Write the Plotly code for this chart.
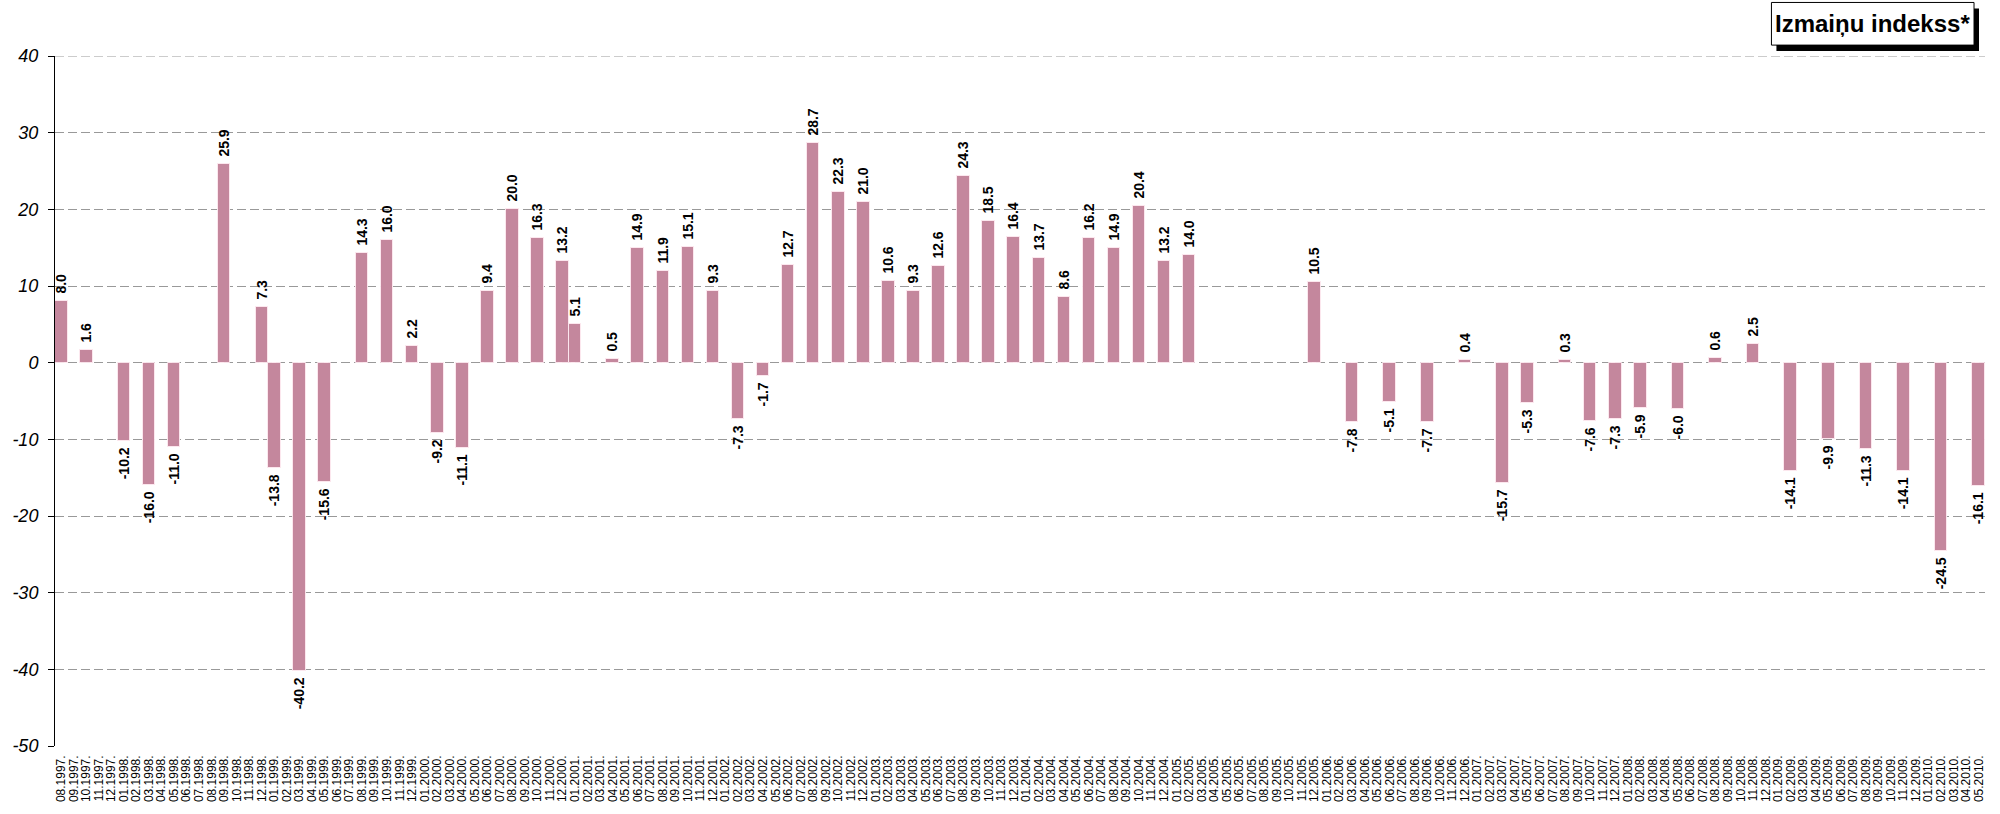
import plotly.graph_objects as go

# Monthly category axis: 08.1997 .. 05.2010
start_year, start_month = 1997, 8
end_year, end_month = 2010, 5

month_labels = []
y, m = start_year, start_month
while (y, m) <= (end_year, end_month):
    month_labels.append(f"{m:02d}.{y}.")
    m += 1
    if m > 12:
        m, y = 1, y + 1

# Months that carry an index value
bar_months = [
    "08.1997.", "10.1997.", "01.1998.", "03.1998.", "05.1998.",
    "09.1998.", "12.1998.", "01.1999.", "03.1999.", "05.1999.",
    "08.1999.", "10.1999.", "12.1999.", "02.2000.", "04.2000.",
    "06.2000.", "08.2000.", "10.2000.", "12.2000.", "01.2001.",
    "04.2001.", "06.2001.", "08.2001.", "10.2001.", "12.2001.",
    "02.2002.", "04.2002.", "06.2002.", "08.2002.", "10.2002.",
    "12.2002.", "02.2003.", "04.2003.", "06.2003.", "08.2003.",
    "10.2003.", "12.2003.", "02.2004.", "04.2004.", "06.2004.",
    "08.2004.", "10.2004.", "12.2004.", "02.2005.", "12.2005.",
    "03.2006.", "06.2006.", "09.2006.", "12.2006.", "03.2007.",
    "05.2007.", "08.2007.", "10.2007.", "12.2007.", "02.2008.",
    "05.2008.", "08.2008.", "11.2008.", "02.2009.", "05.2009.",
    "08.2009.", "11.2009.", "02.2010.", "05.2010.",
]

bar_values = [
    8.0, 1.6, -10.2, -16.0, -11.0,
    25.9, 7.3, -13.8, -40.2, -15.6,
    14.3, 16.0, 2.2, -9.2, -11.1,
    9.4, 20.0, 16.3, 13.2, 5.1,
    0.5, 14.9, 11.9, 15.1, 9.3,
    -7.3, -1.7, 12.7, 28.7, 22.3,
    21.0, 10.6, 9.3, 12.6, 24.3,
    18.5, 16.4, 13.7, 8.6, 16.2,
    14.9, 20.4, 13.2, 14.0, 10.5,
    -7.8, -5.1, -7.7, 0.4, -15.7,
    -5.3, 0.3, -7.6, -7.3, -5.9,
    -6.0, 0.6, 2.5, -14.1, -9.9,
    -11.3, -14.1, -24.5, -16.1,
]

series_name = "Izmaiņu indekss*"
y_ticks = [40, 30, 20, 10, 0, -10, -20, -30, -40, -50]

lookup = dict(zip(bar_months, bar_values))
values = [lookup.get(lbl) for lbl in month_labels]

# Value labels; a non-breaking space on the bar side keeps them off the bar end
NBSP = "\u00a0"
labels = []
for v in values:
    if v is None:
        labels.append("")
    elif v >= 0:
        labels.append(f"{NBSP}{v:.1f}")
    else:
        labels.append(f"{v:.1f}{NBSP}")

W, H = 2000, 814
ML, MR, MT, MB = 51, 15, 56, 62
PW, PH = W - ML - MR, H - MT - MB

def px_x(px):
    return (px - ML) / PW

def px_y(py):
    return (H - MB - py) / PH

BAR_COLOR = "#C4879D"
GRID_COLOR = "#999999"
GRID_DASH = "9px,4px"
FONT = "Arial, Liberation Sans, sans-serif"

fig = go.Figure()
fig.add_trace(go.Bar(
    x=month_labels,
    y=values,
    name=series_name,
    text=labels,
    texttemplate="%{text}",
    marker=dict(color=BAR_COLOR, line=dict(color="rgba(255,235,242,0.9)", width=1)),
    textposition="outside",
    textangle=-90,
    constraintext="none",
    cliponaxis=False,
    textfont=dict(family=FONT, size=14, color="black", weight="bold"),
    hoverinfo="skip",
))

# Top gridline at the upper edge of the value range
fig.add_shape(type="line", xref="paper", yref="y",
              x0=0, x1=1, y0=max(y_ticks), y1=max(y_ticks),
              line=dict(color=GRID_COLOR, width=1, dash=GRID_DASH), layer="below")

# Legend-style caption box with drop shadow
box = (1771, 2, 1974, 45)
shadow_off = (5, 6)
fig.add_shape(type="rect", xref="paper", yref="paper",
              x0=px_x(box[0] + shadow_off[0]), x1=px_x(box[2] + shadow_off[0]),
              y0=px_y(box[3] + shadow_off[1]), y1=px_y(box[1] + shadow_off[1]),
              fillcolor="black", line=dict(width=0), layer="above")
fig.add_shape(type="rect", xref="paper", yref="paper",
              x0=px_x(box[0]), x1=px_x(box[2]),
              y0=px_y(box[3]), y1=px_y(box[1]),
              fillcolor="white", line=dict(color="black", width=1), layer="above")
fig.add_annotation(xref="paper", yref="paper",
                   x=px_x((box[0] + box[2]) / 2), y=px_y((box[1] + box[3]) / 2),
                   text=f"<b>{series_name}</b>", showarrow=False,
                   xanchor="center", yanchor="middle",
                   font=dict(family=FONT, size=24, color="black"))

fig.update_layout(
    width=W, height=H,
    margin=dict(l=ML, r=MR, t=MT, b=MB, pad=0),
    paper_bgcolor="white", plot_bgcolor="white",
    bargap=0,
    showlegend=False,
    font=dict(family=FONT, color="black"),
)

fig.update_xaxes(
    type="category",
    tickmode="array", tickvals=month_labels, ticktext=month_labels,
    tickangle=-90,
    tickfont=dict(family=FONT, size=12, color="black"),
    ticks="", showline=False, showgrid=False, zeroline=False,
    ticklabelstandoff=6,
    range=[-0.5, len(month_labels) - 0.5],
)

fig.update_yaxes(
    range=[-50, 40],
    tickmode="array", tickvals=y_ticks, ticktext=[str(v) for v in y_ticks],
    tickfont=dict(family=FONT, size=18, color="black", style="italic"),
    ticks="outside", ticklen=6, tickcolor="black", tickwidth=1,
    ticklabelstandoff=6,
    showline=True, linecolor="black", linewidth=1,
    showgrid=True, gridcolor=GRID_COLOR, gridwidth=1, griddash=GRID_DASH,
    zeroline=False,
)

fig.write_html("out.html")
